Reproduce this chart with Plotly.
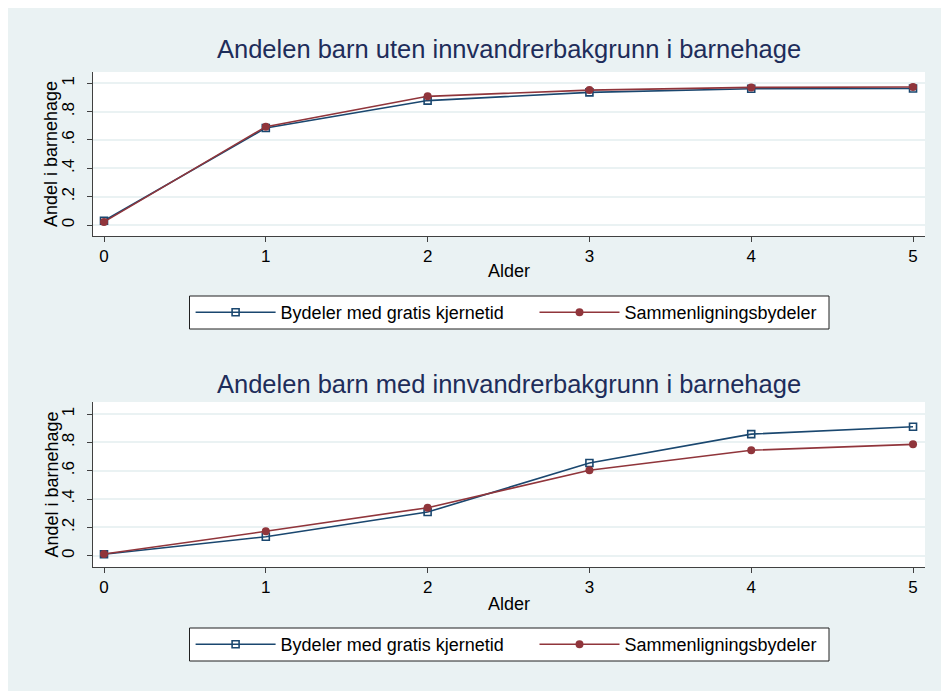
import plotly.graph_objects as go

# ---------------- data ----------------
ages = [0, 1, 2, 3, 4, 5]
series_names = ["Bydeler med gratis kjernetid", "Sammenligningsbydeler"]

# Panel 1: barn uten innvandrerbakgrunn
uten_gratis = [0.030, 0.685, 0.878, 0.936, 0.962, 0.963]
uten_sammen = [0.022, 0.694, 0.908, 0.952, 0.971, 0.974]

# Panel 2: barn med innvandrerbakgrunn
med_gratis = [0.010, 0.134, 0.308, 0.654, 0.858, 0.910]
med_sammen = [0.012, 0.172, 0.339, 0.603, 0.744, 0.786]

panel_titles = ["Andelen barn uten innvandrerbakgrunn i barnehage",
                "Andelen barn med innvandrerbakgrunn i barnehage"]
y_tickvals = [0, 0.2, 0.4, 0.6, 0.8, 1]
y_ticktext = ["0", ".2", ".4", ".6", ".8", "1"]
x_title = "Alder"
y_title = "Andel i barnehage"

# ---------------- styling ----------------
OFF = 8  # page body margin offset of the figure
W, H = 949, 691
ML = 93 - OFF
MT = 72 - OFF
MR = W - (925 - OFF)
MB = H - (567 - OFF)
PW, PH = W - ML - MR, H - MT - MB
NAVY = "#1A476F"
MAROON = "#90353B"
BG = "#EAF2F3"
TITLE_C = "#1E2D5A"
FONT = "Liberation Sans, Arial, Helvetica, sans-serif"


def px_x(p):
    return (p - OFF - ML) / PW


def px_y(p):
    return (H - MB - (p - OFF)) / PH


fig = go.Figure()

# each legend entry gets its own (borderless) legend so the spacing can match
panels = [(uten_gratis, uten_sammen, "x", "y", "legend", "legend2"),
          (med_gratis, med_sammen, "x2", "y2", "legend3", "legend4")]
for gratis, sammen, xa, ya, lg1, lg2 in panels:
    fig.add_trace(go.Scatter(
        x=ages, y=gratis, name=series_names[0], mode="lines+markers",
        line=dict(color=NAVY, width=1.6),
        marker=dict(symbol="square-open", size=7, color=NAVY, line=dict(width=1.6, color=NAVY)),
        xaxis=xa, yaxis=ya, legend=lg1))
    fig.add_trace(go.Scatter(
        x=ages, y=sammen, name=series_names[1], mode="lines+markers",
        line=dict(color=MAROON, width=1.6),
        marker=dict(symbol="circle", size=8, color=MAROON),
        xaxis=xa, yaxis=ya, legend=lg2))

top_dom = [px_y(236), px_y(72)]
bot_dom = [px_y(567), px_y(402)]

xaxis_common = dict(
    range=[-0.068, 5.074], tickvals=ages, ticks="outside", ticklen=5,
    tickcolor="#404040", showline=True, linecolor="#404040", linewidth=1,
    showgrid=False, zeroline=False, tickfont=dict(size=17, color="black", family=FONT),
    fixedrange=True)
yaxis_common = dict(
    tickvals=y_tickvals, ticktext=y_ticktext, tickangle=-90, ticks="outside",
    ticklen=5, tickcolor="#404040", showline=True, linecolor="#404040", linewidth=1,
    showgrid=True, gridcolor=BG, gridwidth=1.5, zeroline=False, ticklabelstandoff=6,
    tickfont=dict(size=17, color="black", family=FONT), fixedrange=True)

legend_common = dict(orientation="h", xanchor="left", yanchor="middle",
                     bgcolor="rgba(0,0,0,0)", borderwidth=0,
                     font=dict(size=18, family=FONT, color="black"),
                     itemwidth=80, itemclick=False, itemdoubleclick=False)

TEXT_OFFSET = 90  # distance from legend left edge to its text start
fig.update_layout(
    width=W, height=H,
    margin=dict(l=ML, r=MR, t=MT, b=MB),
    paper_bgcolor=BG, plot_bgcolor="white",
    font=dict(family=FONT, color="black"),
    showlegend=True,
    xaxis=dict(domain=[0, 1], anchor="y", **xaxis_common),
    yaxis=dict(domain=top_dom, anchor="x", range=[-0.0776, 1.0797], **yaxis_common),
    xaxis2=dict(domain=[0, 1], anchor="y2", **xaxis_common),
    yaxis2=dict(domain=bot_dom, anchor="x2", range=[-0.0797, 1.0847], **yaxis_common),
    legend=dict(x=px_x(280.6 - TEXT_OFFSET), y=px_y(312.5), **legend_common),
    legend2=dict(x=px_x(624.5 - TEXT_OFFSET), y=px_y(312.5), **legend_common),
    legend3=dict(x=px_x(280.6 - TEXT_OFFSET), y=px_y(644.5), **legend_common),
    legend4=dict(x=px_x(624.5 - TEXT_OFFSET), y=px_y(644.5), **legend_common),
)

annotations = []
for i, (ty, xty, yty) in enumerate([(49, 271, 154), (384, 604, 484.5)]):
    annotations.append(dict(text=panel_titles[i], xref="paper", yref="paper",
                            x=0.5, y=px_y(ty), xanchor="center", yanchor="middle",
                            showarrow=False, font=dict(size=25.5, color=TITLE_C, family=FONT)))
    annotations.append(dict(text=x_title, xref="paper", yref="paper",
                            x=px_x(509), y=px_y(xty), xanchor="center", yanchor="middle",
                            showarrow=False, font=dict(size=18, color="black", family=FONT)))
    annotations.append(dict(text=y_title, xref="paper", yref="paper", textangle=-90,
                            x=px_x(51), y=px_y(yty), xanchor="center", yanchor="middle",
                            showarrow=False, font=dict(size=18, color="black", family=FONT)))
fig.update_layout(annotations=annotations)

# legend frames
shapes = []
for top, bot in [(296, 329), (628, 661)]:
    shapes.append(dict(type="rect", xref="paper", yref="paper",
                       x0=px_x(189.5), x1=px_x(829), y0=px_y(bot), y1=px_y(top),
                       fillcolor="white", line=dict(color="#202020", width=1), layer="below"))
fig.update_layout(shapes=shapes)

fig.write_html("out.html")
